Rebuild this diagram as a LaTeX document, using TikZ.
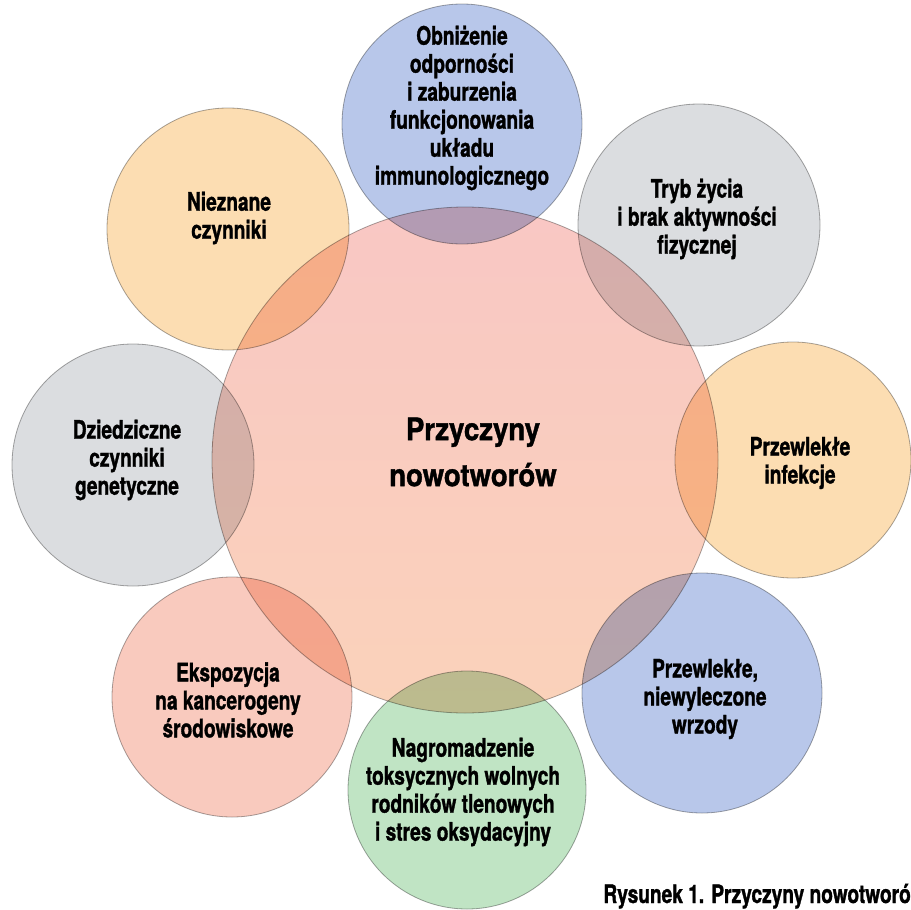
\documentclass[tikz,border=0pt]{standalone}
\usepackage{fontspec}
\usepackage{xcolor}
\usepackage{tikz}
\newfontfamily\etykieta{TeX Gyre Heros}[FakeStretch=0.75, BoldFeatures={FakeBold=1.2}]
\newfontfamily\tytul{TeX Gyre Heros}[FakeStretch=0.89, BoldFeatures={FakeBold=1.2}]
\definecolor{rozowy}{RGB}{249,199,196}
\definecolor{brzoskwinia}{RGB}{250,210,186}
\definecolor{niebieski}{RGB}{184,199,234}
\definecolor{szary}{RGB}{219,221,224}
\definecolor{pomarancz}{RGB}{252,221,178}
\definecolor{zielony}{RGB}{192,228,196}
\definecolor{czerwony}{RGB}{249,202,190}
\definecolor{obwod}{RGB}{168,168,168}

\begin{document}
\begin{tikzpicture}[x=1pt,y=-1pt,
	kolo/.style={circle, draw=obwod, line width=0.8pt, inner sep=0pt, minimum size=#1},
	opis/.style={align=center, inner sep=0pt, font=\etykieta\bfseries\fontsize{25.5}{28}\selectfont},
	]
		\useasboundingbox (0,0) rectangle (911,910);
		\fill[white] (0,0) rectangle (911,910);
		% kola
		\begin{scope}[blend mode=multiply]
		\node[kolo=506pt, top color=rozowy, bottom color=brzoskwinia] (przyczyny) at (465,460) {};
		\node[kolo=240pt, fill=niebieski] (odpornosc) at (462,124) {};
		\node[kolo=242pt, fill=szary] (trybzycia) at (699,225) {};
		\node[kolo=236pt, fill=pomarancz] (infekcje) at (793,460) {};
		\node[kolo=240pt, fill=niebieski] (wrzody) at (702,693) {};
		\node[kolo=238pt, fill=zielony] (rodniki) at (467,790) {};
		\node[kolo=240pt, fill=czerwony] (kancerogeny) at (232,697) {};
		\node[kolo=242pt, fill=szary] (genetyczne) at (133,465) {};
		\node[kolo=242pt, fill=pomarancz] (nieznane) at (228,229) {};
		\end{scope}
		% opisy
		\node[align=center, inner sep=0pt, font=\tytul\bfseries\fontsize{31}{46}\selectfont] (tytul) at (473,452) {Przyczyny\\nowotworów};
		\node[opis] (odpornosc-t) at (462,108) {Obniżenie\\odporności\\i zaburzenia\\funkcjonowania\\układu\\immunologicznego};
		\node[opis] (trybzycia-t) at (697,219) {Tryb życia\\i brak aktywności\\fizycznej};
		\node[opis] (infekcje-t) at (800,463) {Przewlekłe\\infekcje};
		\node[opis] (wrzody-t) at (705,699) {Przewlekłe,\\niewyleczone\\wrzody};
		\node[opis] (rodniki-t) at (463,792) {Nagromadzenie\\toksycznych wolnych\\rodników tlenowych\\i stres oksydacyjny};
		\node[opis] (kancerogeny-t) at (228,700) {Ekspozycja\\na kancerogeny\\środowiskowe};
		\node[opis] (genetyczne-t) at (127,460) {Dziedziczne\\czynniki\\genetyczne};
		\node[opis] (nieznane-t) at (229,218) {Nieznane\\czynniki};
		\node[opis, anchor=base east] (podpis) at (911,903) {Rysunek 1. Przyczyny nowotworó};
\end{tikzpicture}
\end{document}
